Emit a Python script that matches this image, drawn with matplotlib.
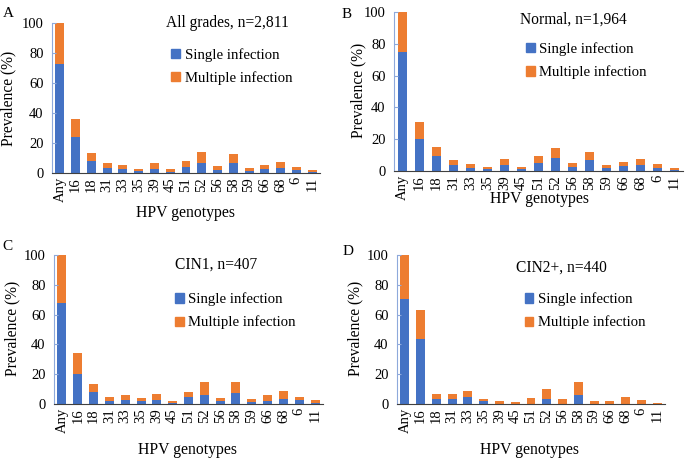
import numpy as np
import matplotlib
matplotlib.use("Agg")
import matplotlib.pyplot as plt
from matplotlib.patches import Patch

plt.rcParams["font.family"] = ["Liberation Serif", "DejaVu Serif"]

GENOTYPES = ["Any", "16", "18", "31", "33", "35", "39", "45", "51", "52",
             "56", "58", "59", "66", "68", "6", "11"]

# single infection / total prevalence (%) per genotype
A_SINGLE = [73.0, 23.8, 8.0, 3.1, 2.4, 1.3, 2.9, 0.9, 4.2, 6.9, 2.2, 6.9, 1.6, 2.4, 3.3, 1.8, 0.9]
A_TOTAL = [100, 36.2, 13.3, 6.4, 5.1, 2.9, 6.4, 2.4, 8.2, 13.8, 4.9, 12.9, 3.6, 5.1, 7.1, 4.0, 1.8]
B_SINGLE = [75.0, 19.9, 9.4, 3.6, 2.1, 1.0, 3.8, 1.0, 5.0, 8.2, 2.5, 6.9, 1.7, 2.9, 4.0, 2.1, 0.8]
B_TOTAL = [100, 30.8, 15.1, 6.9, 4.4, 2.7, 7.3, 2.7, 9.4, 14.3, 5.0, 11.9, 3.8, 5.5, 7.5, 4.4, 1.7]
C_SINGLE = [67.7, 19.8, 8.2, 1.8, 2.4, 1.8, 2.9, 0.4, 4.5, 6.0, 1.8, 7.3, 1.1, 1.8, 3.6, 2.4, 0.4]
C_TOTAL = [100, 34.1, 13.1, 4.5, 6.2, 3.8, 6.9, 2.0, 7.8, 15.1, 4.2, 14.9, 3.6, 5.8, 8.5, 4.7, 2.4]
D_SINGLE = [70.6, 43.9, 3.6, 3.1, 4.9, 1.8, 0.0, 0.0, 0.2, 3.1, 0.0, 5.8, 0.0, 0.2, 0.2, 0.2, 0.0]
D_TOTAL = [100, 63.3, 6.9, 6.9, 8.5, 3.3, 1.8, 1.6, 3.8, 10.2, 3.1, 14.9, 1.8, 1.8, 4.5, 2.7, 0.9]

BLUE = "#4472C4"
ORANGE = "#ED7D31"
SPINE_BLUE = "#8EA9DB"

W, H = 685, 458
fig = plt.figure(figsize=(W / 100, H / 100), dpi=100)


def px_axes(left, right, top, bottom):
    return fig.add_axes([left / W, 1 - bottom / H, (right - left) / W, (bottom - top) / H])


panels = [
    # letter, title, single, total, axes px (l, r, t, b), letter xy, title xy (axes), legend xy (axes), xlabel xy, ylabel xy
    ("A", "All grades, n=2,811", A_SINGLE, A_TOTAL, (52, 320, 23, 173), (3, 7),
     (0.425, 1.0), (0.445, 0.835), (185, 213), (8, 98)),
    ("B", "Normal, n=1,964", B_SINGLE, B_TOTAL, (394, 683, 12, 171), (342, 8),
     (0.436, 0.95), (0.457, 0.81), (540, 199), (358, 90)),
    ("C", "CIN1, n=407", C_SINGLE, C_TOTAL, (54, 323, 255, 404), (2, 240),
     (0.45, 0.933), (0.45, 0.75), (188, 450), (12, 328)),
    ("D", "CIN2+, n=440", D_SINGLE, D_TOTAL, (397, 665, 255, 404), (343, 245),
     (0.444, 0.913), (0.476, 0.75), (530, 450), (355, 328)),
]

x = np.arange(len(GENOTYPES))
for letter, title, single, total, box, lxy, txy, legxy, xlxy, ylxy in panels:
    ax = px_axes(*box)
    single = np.array(single)
    multiple = np.array(total) - single
    ax.bar(x, single, width=0.57, color=BLUE)
    ax.bar(x, multiple, bottom=single, width=0.57, color=ORANGE)
    ax.set_xlim(-0.5, len(GENOTYPES) - 0.5)
    ax.set_ylim(0, 100)
    ax.set_yticks([0, 20, 40, 60, 80, 100])
    ax.set_xticks(x)
    ax.set_xticklabels(GENOTYPES, rotation=90, fontsize=10.5)
    ax.tick_params(axis="y", direction="in", length=3, color=SPINE_BLUE, labelsize=10.5, pad=6)
    ax.tick_params(axis="x", length=0, pad=3)
    for s in ["top", "right"]:
        ax.spines[s].set_visible(False)
    ax.spines["left"].set_color(SPINE_BLUE)
    ax.spines["bottom"].set_color("#404040")
    ax.text(txy[0], txy[1], title, transform=ax.transAxes, fontsize=11.2, va="center", ha="left")
    handles = [Patch(color=BLUE, label="Single infection"), Patch(color=ORANGE, label="Multiple infection")]
    ax.legend(handles=handles, loc="upper left", bbox_to_anchor=legxy, frameon=False,
              fontsize=10.6, handlelength=0.6, handleheight=0.6, handletextpad=0.3,
              labelspacing=0.65, borderaxespad=0, borderpad=0)
    fig.text(lxy[0] / W, 1 - lxy[1] / H, letter, fontsize=11, ha="left", va="top")
    fig.text(xlxy[0] / W, 1 - xlxy[1] / H, "HPV genotypes", fontsize=11.3, ha="center", va="center")
    fig.text(ylxy[0] / W, 1 - ylxy[1] / H, "Prevalence (%)", fontsize=11.2, ha="center", va="center",
             rotation=90)

fig.savefig("out.png", dpi=100)
